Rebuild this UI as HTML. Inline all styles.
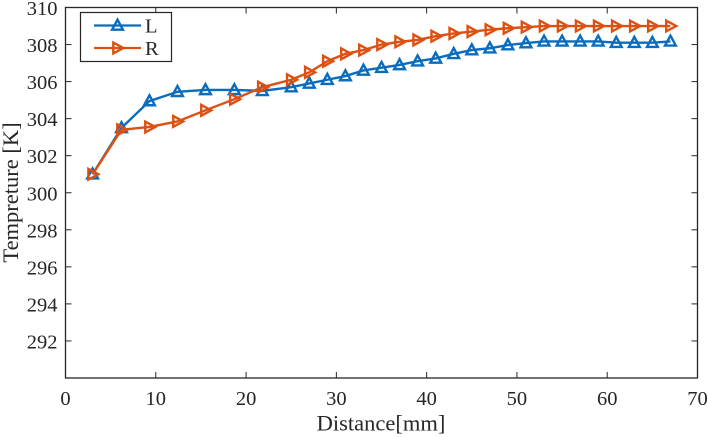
<!DOCTYPE html>
<html>
<head>
<meta charset="utf-8">
<title>Temperature vs Distance</title>
<style>
html,body{margin:0;padding:0;background:#fff;width:708px;height:437px;overflow:hidden}
svg{display:block}
text{font-family:"Liberation Serif",serif;fill:#262626}
</style>
</head>
<body>
<svg id="chart" width="708" height="437" viewBox="0 0 708 437" xmlns="http://www.w3.org/2000/svg"></svg>
<script>
const distances = [3, 6.2, 9.3, 12.4, 15.5, 18.7, 21.8, 25, 27, 29, 31, 33, 35, 37, 39, 41, 43, 45, 47, 49, 51, 53, 55, 57, 59, 61, 63, 65, 67];
const seriesL = [301, 303.5, 304.95, 305.45, 305.55, 305.55, 305.5, 305.7, 305.9, 306.1, 306.3, 306.6, 306.75, 306.9, 307.1, 307.25, 307.5, 307.7, 307.8, 307.97, 308.08, 308.17, 308.17, 308.17, 308.17, 308.1, 308.1, 308.1, 308.17];
const seriesR = [301, 303.4, 303.55, 303.85, 304.45, 305.05, 305.7, 306.1, 306.5, 307.1, 307.5, 307.7, 308, 308.15, 308.25, 308.45, 308.6, 308.7, 308.8, 308.88, 308.94, 309, 309, 309, 309, 309, 309, 309, 309];
const xTicks = [0, 10, 20, 30, 40, 50, 60, 70];
const yTicks = [292, 294, 296, 298, 300, 302, 304, 306, 308, 310];
const xDomain = [0, 70];
const yDomain = [290, 310];

const svg = document.getElementById('chart');
const NS = 'http://www.w3.org/2000/svg';
const plot = {left: 65.5, right: 697.5, top: 7.5, bottom: 378};
const xs = v => plot.left + (v - xDomain[0]) / (xDomain[1] - xDomain[0]) * (plot.right - plot.left);
const ys = v => plot.bottom - (v - yDomain[0]) / (yDomain[1] - yDomain[0]) * (plot.bottom - plot.top);
function make(tag, attrs, parent) {
  const el = document.createElementNS(NS, tag);
  for (const k in attrs) el.setAttribute(k, attrs[k]);
  (parent || svg).appendChild(el);
  return el;
}
function upPoints(cx, cy) {
  return (cx - 5.4) + ',' + (cy + 4.2) + ' ' + (cx + 5.4) + ',' + (cy + 4.2) + ' ' + cx + ',' + (cy - 5.8);
}
function rightPoints(cx, cy) {
  return (cx - 4.2) + ',' + (cy - 5.4) + ' ' + (cx - 4.2) + ',' + (cy + 5.4) + ' ' + (cx + 5.8) + ',' + cy;
}

const frame = make('rect', {x: plot.left, y: plot.top, width: plot.right - plot.left, height: plot.bottom - plot.top, fill: 'none', stroke: '#262626', 'stroke-width': 1.3});



xTicks.forEach(function (t) {
  const x = xs(t);
  const tickB = make('line', {x1: x, x2: x, y1: plot.bottom, y2: plot.bottom - 6, stroke: '#262626', 'stroke-width': 1});
  
  
  const tickT = make('line', {x1: x, x2: x, y1: plot.top, y2: plot.top + 6, stroke: '#262626', 'stroke-width': 1});
  
  
  const label = make('text', {x: x, y: 405, 'text-anchor': 'middle', 'font-size': 20.5});
  label.textContent = t;
  
  
});
yTicks.forEach(function (t) {
  const y = ys(t);
  const tickL = make('line', {x1: plot.left, x2: plot.left + 6, y1: y, y2: y, stroke: '#262626', 'stroke-width': 1});
  
  
  const tickR = make('line', {x1: plot.right, x2: plot.right - 6, y1: y, y2: y, stroke: '#262626', 'stroke-width': 1});
  
  
  const label = make('text', {x: 57.5, y: y + 7.5, 'text-anchor': 'end', 'font-size': 20.5});
  label.textContent = t;
  
  
});

const xTitle = make('text', {x: 381, y: 430.5, 'text-anchor': 'middle', 'font-size': 22.5});
xTitle.textContent = 'Distance[mm]';


const yTitle = make('text', {x: 0, y: 0, transform: 'translate(18,192.5) rotate(-90)', 'text-anchor': 'middle', 'font-size': 22.5});
yTitle.textContent = 'Tempreture [K]';



function drawSeries(values, color, pointsFn, name) {
  const group = make('g', {fill: 'none', stroke: color, 'stroke-width': 2.4});
  
  
  const line = make('polyline', {points: values.map(function (v, i) { return xs(distances[i]) + ',' + ys(v); }).join(' ')}, group);
  
  
  values.forEach(function (v, i) {
    const m = make('polygon', {points: pointsFn(xs(distances[i]), ys(v))}, group);
    
    
  });
}
drawSeries(seriesL, '#0A6CBD', upPoints, 'series-l');
drawSeries(seriesR, '#DD5012', rightPoints, 'series-r');

const legend = make('g', {});


const box = make('rect', {x: 80.5, y: 12.5, width: 91, height: 49, fill: '#fff', stroke: '#262626', 'stroke-width': 1.2}, legend);


function legendEntry(y, color, pointsFn, text, name) {
  const g = make('g', {}, legend);
  
  
  make('line', {x1: 94, x2: 141, y1: y, y2: y, stroke: color, 'stroke-width': 2.2}, g);
  make('polygon', {points: pointsFn(117.5, y), fill: 'none', stroke: color, 'stroke-width': 2.4}, g);
  const t = make('text', {x: 145, y: y + 7, 'font-size': 20.5}, g);
  t.textContent = text;
}
legendEntry(25.5, '#0A6CBD', upPoints, 'L', 'legend-entry-l');
legendEntry(48, '#DD5012', rightPoints, 'R', 'legend-entry-r');
</script>
</body>
</html>
